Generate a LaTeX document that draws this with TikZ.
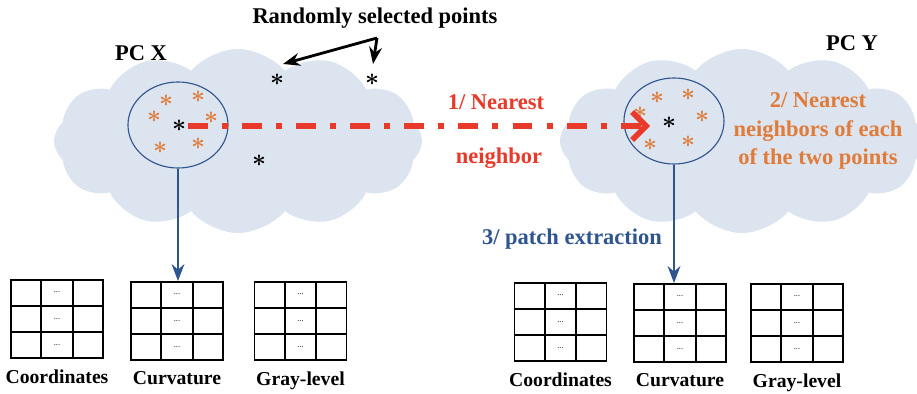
\documentclass[tikz,border=0pt]{standalone}
\usepackage{fontspec}
\setmainfont{Liberation Serif}
\usetikzlibrary{shapes.symbols, shapes.geometric, arrows.meta, positioning, calc}

\definecolor{cloudfill}{HTML}{DCE4EF}
\definecolor{ptorange}{HTML}{E07B39}
\definecolor{nnred}{HTML}{E8392A}
\definecolor{patchblue}{HTML}{2F5490}

\begin{document}
\begin{tikzpicture}[x=0.025cm, y=-0.025cm, >=Stealth,
    font=\bfseries\fontsize{16}{20}\selectfont,
    pccloud/.style={cloud, cloud puffs=12, cloud puff arc=100, aspect=2, fill=cloudfill,
        inner sep=0pt, minimum width=9.2cm, minimum height=4.6cm},
    nbhd/.style={ellipse, draw=patchblue, line width=0.8pt,
        minimum width=2.5cm, minimum height=2.15cm},
    blackpt/.style={inner sep=1pt, font=\boldmath\fontsize{17}{17}\selectfont},
    orangept/.style={inner sep=1pt, text=ptorange, font=\boldmath\fontsize{17}{17}\selectfont},
    patchgrid/.style={draw, line width=1.3pt, minimum width=2.3cm, minimum height=1.95cm},
    patchlabel/.style={below=4pt of #1, font=\bfseries\fontsize{14}{16}\selectfont}
]

    \useasboundingbox (0,0) rectangle (917,394);

    % Point clouds
    \node[pccloud] (pcX) at (238,141) {};
    \node[pccloud, minimum width=9.1cm] (pcY) at (742,141) {};
    \node (lblX) at (141,53) {PC X};
    \node (lblY) at (852,43) {PC Y};

    % Neighbourhoods
    \node[nbhd] (nbX) at (178,125) {};
    \node[nbhd] (nbY) at (674,121) {};

    % Points in PC X
    \node[blackpt] (ptX) at (179,126) {$\ast$};
    \node[orangept] at (166,101) {$\ast$};
    \node[orangept] at (198,97)  {$\ast$};
    \node[orangept] at (154,117) {$\ast$};
    \node[orangept] at (211,118) {$\ast$};
    \node[orangept] at (160,148) {$\ast$};
    \node[orangept] at (198,144) {$\ast$};

    % Randomly selected points
    \node[blackpt] (rpA) at (277,80)  {$\ast$};
    \node[blackpt] (rpB) at (372,80)  {$\ast$};
    \node[blackpt] (rpC) at (259,161) {$\ast$};
    \node (lblRand) at (375,18) {Randomly selected points};
    \coordinate (rsFork) at (377,38);
    \draw[line width=2pt, ->] (rsFork) -- ($(rpA)+(6,-16)$);
    \draw[line width=2pt, ->] (rsFork) -- ($(rpB)+(1,-16)$);

    % Points in PC Y
    \node[blackpt] (ptY) at (669,123) {$\ast$};
    \node[orangept] at (657,98)  {$\ast$};
    \node[orangept] at (688,95)  {$\ast$};
    \node[orangept] at (640,113) {$\ast$};
    \node[orangept] at (702,117) {$\ast$};
    \node[orangept] at (650,145) {$\ast$};
    \node[orangept] at (688,142) {$\ast$};

    % 1/ nearest neighbour
    \coordinate (nnTip) at ($(ptY)+(-19,3)$);
    \draw[nnred, line width=4pt, dash pattern=on 14.2pt off 10pt on 4.3pt off 10pt]
        (ptX) -- (nnTip);
    \draw[nnred, line width=4pt, -{Straight Barb[length=3.5mm, width=7mm]}]
        ($(nnTip)+(-8,0)$) -- (nnTip);
    \node[text=nnred] (lblNN) at (496,102) {1/ Nearest};
    \node[text=nnred] (lblNb) at (499,158) {neighbor};

    % 2/ nearest neighbours
    \node[text=ptorange, align=center] (lblKnn) at (818,131)
        {2/ Nearest\\neighbors of each\\of the two points};

    % Patches of PC X
    \node[patchgrid] (gXa) at (57,319)    {};
    \node[patchgrid] (gXb) at (177,321)   {};
    \node[patchgrid] (gXc) at (300.5,321) {};
    \node[patchlabel=gXa] {Coordinates};
    \node[patchlabel=gXb] {Curvature};
    \node[patchlabel=gXc] {Gray-level};

    % Patches of PC Y
    \node[patchgrid] (gYa) at (560.5,322) {};
    \node[patchgrid] (gYb) at (680,323)   {};
    \node[patchgrid] (gYc) at (797,323)   {};
    \node[patchlabel=gYa] {Coordinates};
    \node[patchlabel=gYb] {Curvature};
    \node[patchlabel=gYc] {Gray-level};

    % Cells of the patches
    \foreach \g in {gXa, gXb, gXc, gYa, gYb, gYc} {
        \foreach \f in {0.3333, 0.6667} {
            \draw[line width=1.3pt] ($(\g.north west)!\f!(\g.north east)$)
                -- ($(\g.south west)!\f!(\g.south east)$);
            \draw[line width=1.3pt] ($(\g.north west)!\f!(\g.south west)$)
                -- ($(\g.north east)!\f!(\g.south east)$);
        }
        \foreach \f in {0.1667, 0.5, 0.8333}
            \node[font=\normalfont\fontsize{6}{6}\selectfont]
                at ($(\g.north)!\f!(\g.south)$) {...};
    }

    % 3/ patch extraction
    \draw[patchblue, line width=2pt, ->] (nbX.south) -- (nbX.south |- gXb.north);
    \draw[patchblue, line width=2pt, ->] (nbY.south) -- (nbY.south |- gYb.north);
    \node[text=patchblue] (lblPatch) at (572,239) {3/ patch extraction};

\end{tikzpicture}
\end{document}
